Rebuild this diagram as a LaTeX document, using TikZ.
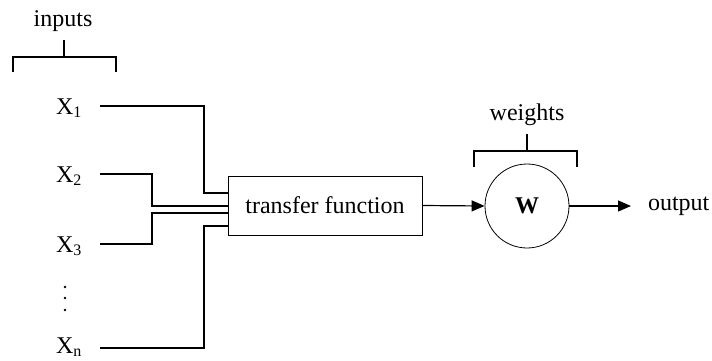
\documentclass[tikz,border=0pt]{standalone}
\usepackage{fontspec}
\setmainfont{Liberation Serif}
\usetikzlibrary{arrows.meta}

\begin{document}
\begin{tikzpicture}[x=0.5pt,y=-0.5pt,
    every node/.style={font=\fontsize{12}{14}\selectfont},
    wire/.style={line width=0.7pt},
    flow/.style={line width=0.6pt,-{Triangle[length=6.5pt,width=5.5pt]}},
    brace/.style={line width=0.6pt}]
    \useasboundingbox (0,0) rectangle (712,360);

    % Define bend positions of the input wires
    \def\bendA{204}
    \def\bendB{152}

    % Input labels and wire starts
    \node[anchor=base west] (x1) at (49,114) {X\textsubscript{1}};
    \node[anchor=base west] (x2) at (49,182) {X\textsubscript{2}};
    \node[anchor=base west] (x3) at (49,252) {X\textsubscript{3}};
    \node[anchor=base west] (xn) at (49,353) {X\textsubscript{n}};
    \foreach \y in {287,298,310}
        \fill (65,\y) circle (0.7pt);
    \coordinate (s1) at (100,106);
    \coordinate (s2) at (100,174);
    \coordinate (s3) at (100,244);
    \coordinate (sn) at (100,348);

    % Transfer function, weights and output
    \node[draw, minimum width=97pt, minimum height=29.5pt] (tf) at (325,205.5) {transfer function};
    \node[draw, circle, minimum size=42pt, inner sep=0pt, font=\fontsize{12}{14}\selectfont\bfseries] (w) at (527,206) {W};
    \node[anchor=west] (out) at (641,206) {output};

    % Bracket labels
    \node[anchor=base] (inputs) at (63,26) {inputs};
    \node[anchor=base] (weights) at (527,120) {weights};
    \draw[brace] (13,72) |- (116,57) -- (116,72);
    \draw[brace] (64,40) -- (64,57);
    \draw[brace] (474,167) |- (577,151) -- (577,167);
    \draw[brace] (527,134) -- (527,151);

    % Wires into the box
    \draw[wire] (s1) -| (\bendA,193) -- (tf.west |- 0,193);
    \draw[wire] (s2) -| (\bendB,206) -- (tf.west |- 0,206);
    \draw[wire] (s3) -| (\bendB,213) -- (tf.west |- 0,213);
    \draw[wire] (sn) -| (\bendA,226) -- (tf.west |- 0,226);

    % Arrows
    \draw[flow] (tf.east) -- (w.west);
    \draw[flow] (w.east) -- ([xshift=-5pt]out.west);
\end{tikzpicture}
\end{document}
